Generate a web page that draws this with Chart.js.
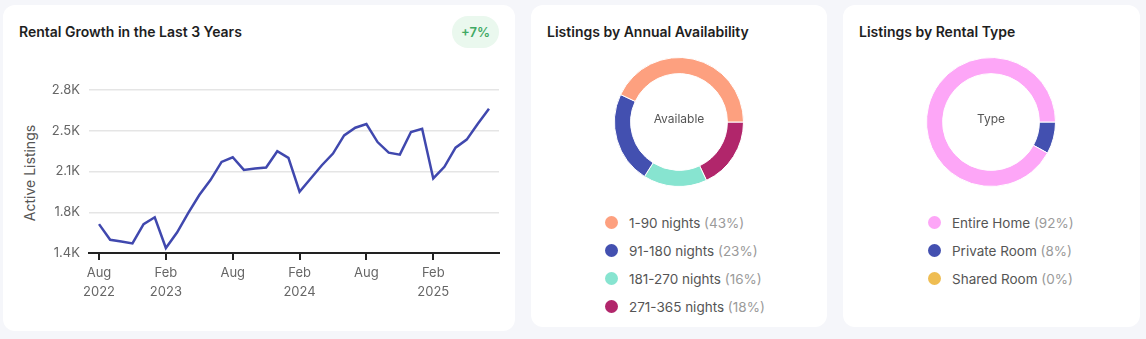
<!DOCTYPE html>
<html>
<head>
<meta charset="utf-8">
<script src="https://cdn.jsdelivr.net/npm/chart.js@4.4.0/dist/chart.umd.min.js"></script>
<style>
  body { margin: 0; background: #f5f6fa; font-family: Inter, sans-serif; width: 1146px; height: 339px; position: relative; overflow: hidden; }
  .card { position: absolute; top: 5px; background: #fff; border-radius: 12px; }
  .title { position: absolute; left: 16px; top: 18px; line-height: 18px; font-size: 14px; font-weight: 600; color: #1e1e1e; }
  .badge { position: absolute; left: 449px; top: 11px; width: 47px; height: 32px; line-height: 32px; border-radius: 16px; background: #eaf8ee; color: #3fa963; font-size: 13px; font-weight: 600; text-align: center; }
  .wrap { position: absolute; }
  .ytitle { position: absolute; left: 27px; top: 157.5px; width: 120px; margin-left: -60px; text-align: center; line-height: 20px; font-size: 14px; color: #555; transform: rotate(-90deg); }
  .legend { position: absolute; top: 204px; font-size: 13.5px; color: #555; }
  .legend .row { height: 28px; line-height: 28px; white-space: nowrap; }
  .legend .dot { display: inline-block; width: 13px; height: 13px; border-radius: 50%; vertical-align: -1px; margin-right: 11px; }
  .legend .pct { color: #9a9a9a; }
</style>
</head>
<body>
<div class="card" style="left:3px;width:512px;height:326px">
  <div class="title">Rental Growth in the Last 3 Years</div>
  <div class="badge">+7%</div>
  <div class="ytitle">Active Listings</div>
  <div class="wrap" style="left:10px;top:55px;width:500px;height:270px"><canvas id="growthChart"></canvas></div>
</div>
<div class="card" style="left:531px;width:296px;height:322px">
  <div class="title">Listings by Annual Availability</div>
  <div class="wrap" style="left:83px;top:52px;width:130px;height:130px"><canvas id="availChart"></canvas></div>
  <div class="legend" id="availLegend" style="left:74px"></div>
</div>
<div class="card" style="left:843px;width:297px;height:322px">
  <div class="title">Listings by Rental Type</div>
  <div class="wrap" style="left:83px;top:52px;width:130px;height:130px"><canvas id="typeChart"></canvas></div>
  <div class="legend" id="typeLegend" style="left:85px"></div>
</div>
<script>
// Growth chart data
const months = ['Aug 2022', 'Sep 2022', 'Oct 2022', 'Nov 2022', 'Dec 2022', 'Jan 2023',
    'Feb 2023', 'Mar 2023', 'Apr 2023', 'May 2023', 'Jun 2023', 'Jul 2023',
    'Aug 2023', 'Sep 2023', 'Oct 2023', 'Nov 2023', 'Dec 2023', 'Jan 2024',
    'Feb 2024', 'Mar 2024', 'Apr 2024', 'May 2024', 'Jun 2024', 'Jul 2024',
    'Aug 2024', 'Sep 2024', 'Oct 2024', 'Nov 2024', 'Dec 2024', 'Jan 2025',
    'Feb 2025', 'Mar 2025', 'Apr 2025', 'May 2025', 'Jun 2025', 'Jul 2025'];
const activeListings = [1648, 1514, 1499, 1482, 1648, 1707,
    1443, 1576, 1742, 1898, 2026, 2182,
    2222, 2114, 2126, 2134, 2274, 2217,
    1926, 2040, 2154, 2254, 2410, 2476,
    2507, 2353, 2262, 2245, 2439, 2467,
    2040, 2140, 2305, 2374, 2510, 2638];
const tickMonths = ['Aug 2022', 'Feb 2023', 'Aug 2023', 'Feb 2024', 'Aug 2024', 'Feb 2025'];
const tickLabels = [['Aug', '2022'], ['Feb', '2023'], 'Aug', ['Feb', '2024'], 'Aug', ['Feb', '2025']];
const yTicks = [1400, 1750, 2100, 2450, 2800];

// Donut data
const availLabels = ['1-90 nights', '91-180 nights', '181-270 nights', '271-365 nights'];
const availShares = [43, 23, 16, 18];
const availColors = ['#fda07f', '#4350b0', '#87e4d0', '#b1266b'];
const typeLabels = ['Entire Home', 'Private Room', 'Shared Room'];
const typeShares = [92, 8, 0];
const typeColors = ['#fda6f7', '#4350b0', '#efbd52'];

Chart.defaults.font.family = 'Inter, sans-serif';
Chart.defaults.animation = false;

//Growth Chart
new Chart(document.getElementById('growthChart'), {
    type: 'line',
    data: {
        datasets: [{
            data: activeListings.map((v, i) => ({ x: i, y: v })),
            borderColor: '#4048ae',
            borderWidth: 2.5,
            pointRadius: 0,
            tension: 0,
        }]
    },
    options: {
        responsive: true,
        maintainAspectRatio: false,
        layout: { padding: { top: 30, right: 14, bottom: 17, left: 0 } },
        plugins: { legend: { display: false }, tooltip: { enabled: false } },
        scales: {
            x: {
                type: 'linear',
                min: -0.9,
                max: 35.9,
                afterBuildTicks: (axis) => { axis.ticks = tickMonths.map(m => ({ value: months.indexOf(m) })); },
                afterFit: (axis) => { axis.height = 60; },
                grid: { drawOnChartArea: false, color: '#222', lineWidth: 2, tickLength: 7 },
                border: { color: '#222', width: 2 },
                ticks: {
                    autoSkip: false, maxRotation: 0, color: '#666',
                    font: { size: 13, lineHeight: 1.5 },
                    callback: (v, i) => tickLabels[i]
                }
            },
            y: {
                min: 1400,
                max: 2800,
                afterBuildTicks: (axis) => { axis.ticks = yTicks.map(v => ({ value: v })); },
                afterFit: (axis) => { axis.width = 76; },
                grid: { color: '#e5e5e5', lineWidth: 1.5, drawTicks: false },
                border: { display: false },
                ticks: {
                    color: '#666', padding: 9, font: { size: 13 },
                    callback: (v) => (v / 1000).toFixed(1) + 'K'
                }
            }
        }
    }
});

// center label for donuts
const centerText = {
    id: 'centerText',
    afterDraw(chart, args, opts) {
        const arc = chart.getDatasetMeta(0).data[0];
        const ctx = chart.ctx;
        ctx.save();
        ctx.font = '12px Inter, sans-serif';
        ctx.fillStyle = '#555';
        ctx.textAlign = 'center';
        ctx.textBaseline = 'middle';
        ctx.fillText(opts.text, arc.x, arc.y - 3);
        ctx.restore();
    }
};

// slices run counter-clockwise from 3 o'clock, so feed them reversed
function donut(id, shares, colors, text) {
    new Chart(document.getElementById(id), {
        type: 'doughnut',
        data: {
            datasets: [{
                data: shares.slice().reverse(),
                backgroundColor: colors.slice().reverse(),
                borderColor: '#fff',
                borderWidth: 1,
            }]
        },
        options: {
            responsive: true,
            maintainAspectRatio: false,
            rotation: 90,
            cutout: '75%',
            plugins: { legend: { display: false }, tooltip: { enabled: false }, centerText: { text: text } }
        },
        plugins: [centerText]
    });
}

function legend(id, labels, shares, colors) {
    document.getElementById(id).innerHTML = labels.map((l, i) =>
        '<div class="row"><span class="dot" style="background:' + colors[i] + '"></span>' +
        l + ' <span class="pct">(' + shares[i] + '%)</span></div>').join('');
}

donut('availChart', availShares, availColors, 'Available');
donut('typeChart', typeShares, typeColors, 'Type');
legend('availLegend', availLabels, availShares, availColors);
legend('typeLegend', typeLabels, typeShares, typeColors);
</script>
</body>
</html>
